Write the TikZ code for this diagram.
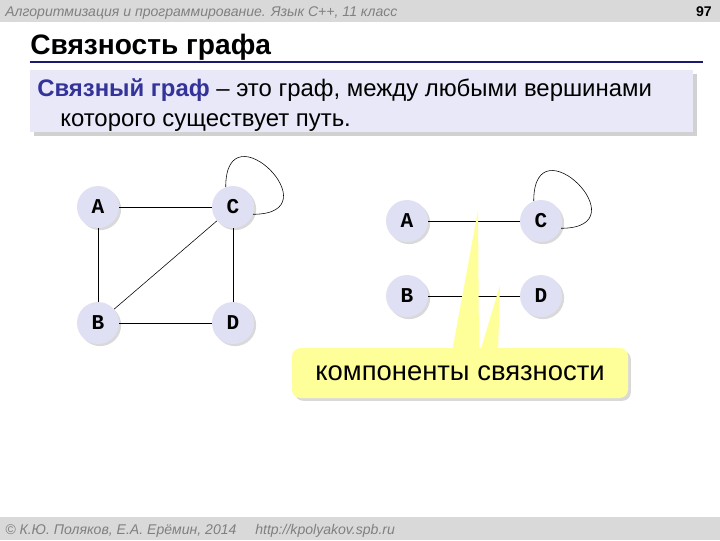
\documentclass[tikz,border=0pt]{standalone}
\usepackage{fontspec}
\setmainfont{Liberation Sans}
\newfontfamily\labelfont{Liberation Mono}
\usetikzlibrary{shadows}
\definecolor{bargray}{HTML}{D9D9D9}
\definecolor{bartext}{HTML}{808080}
\definecolor{rulenavy}{HTML}{1A1A70}
\definecolor{defbox}{HTML}{E8E8F8}
\definecolor{defblue}{HTML}{333399}
\definecolor{vertexfill}{HTML}{E0E0F4}
\definecolor{noteyellow}{HTML}{FFFF99}

\begin{document}
\begin{tikzpicture}[x=0.025cm, y=-0.025cm,
    vertex/.style ={circle, fill=vertexfill, minimum size=1.05cm, inner sep=0pt,
      font=\labelfont\bfseries\fontsize{15}{15}\selectfont,
      drop shadow={shadow xshift=1.5pt, shadow yshift=-1.5pt, opacity=0.3}},
    edge/.style ={thin, black},
    selfloop/.style ={thin, black, out=90, in=0, distance=2.05cm},
    bartxt/.style ={anchor=base west, text=bartext, font=\itshape\fontsize{10}{11}\selectfont}]
   \useasboundingbox (0,0) rectangle (720,540);
   % header and footer
   \fill[bargray] (0,0) rectangle (720,22);
   \fill[bargray] (0,517) rectangle (720,540);
   \node[bartxt, inner sep=0pt] (head) at (5,16)
      {Алгоритмизация и программирование. Язык C++, 11 класс};
   \node[anchor=base east, inner sep=0pt, font=\bfseries\fontsize{10}{11}\selectfont] (page) at (712,16) {97};
   \node[bartxt, inner sep=0pt] (copy) at (5,534) {© К.Ю. Поляков, Е.А. Ерёмин, 2014};
   \node[bartxt, inner sep=0pt] (site) at (255,534) {http://kpolyakov.spb.ru};
   % title
   \node[anchor=base west, inner sep=0pt, font=\bfseries\fontsize{20}{22}\selectfont] (title) at (30,54)
      {Связность графа};
   \draw[rulenavy, line width=1.5pt] (30,62) -- (703,62);
   % definition
   \fill[black, opacity=0.18] (34,74) rectangle (697,136);
   \fill[defbox] (30,70) rectangle (693,132);
   \node[anchor=base west, inner sep=0pt, font=\fontsize{17}{20}\selectfont] (def1) at (37,96)
      {\textcolor{defblue}{\bfseries Связный граф} – это граф, между любыми вершинами};
   \node[anchor=base west, inner sep=0pt, font=\fontsize{17}{20}\selectfont] (def2) at (60,126)
      {которого существует путь.};
   % connected graph
   \node[vertex] (A) at (98,207)  {A};
   \node[vertex] (C) at (233,207) {C};
   \node[vertex] (B) at (98,323)  {B};
   \node[vertex] (D) at (233,323) {D};
   \draw[edge] (A) to (C);
   \draw[edge] (A) to (B);
   \draw[edge] (B) to (C);
   \draw[edge] (C) to (D);
   \draw[edge] (B) to (D);
   \draw[selfloop] (C.110) to (C.-20);
   % two components
   \node[vertex] (A2) at (407,221) {A};
   \node[vertex] (C2) at (541,221) {C};
   \node[vertex] (B2) at (407,296) {B};
   \node[vertex] (D2) at (541,296) {D};
   \draw[edge] (A2) to (C2);
   \draw[edge] (B2) to (D2);
   \draw[selfloop] (C2.110) to (C2.-20);
   % callout
   \coordinate (tip1) at (478,210);
   \coordinate (tip2) at (500,285);
   \fill[noteyellow] (452,352) -- (tip1) -- (479,352) -- cycle;
   \fill[noteyellow] (480,352) -- (tip2) -- (498,352) -- cycle;
   \node[fill=noteyellow, rounded corners=6pt, minimum width=8.4cm, minimum height=1.25cm,
      font=\fontsize{19.5}{22}\selectfont,
      drop shadow={shadow xshift=2pt, shadow yshift=-2pt, opacity=0.3}] (comp) at (460,373)
      {компоненты связности};
 \end{tikzpicture}
\end{document}
